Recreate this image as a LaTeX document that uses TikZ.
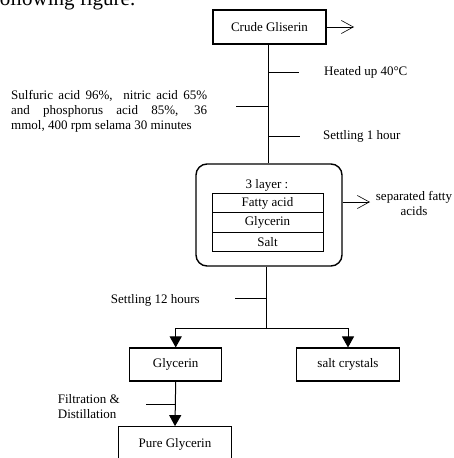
\documentclass[tikz,border=0pt]{standalone}
\usepackage{fontspec}
\setmainfont{Liberation Serif}
\usetikzlibrary{arrows.meta}
\begin{document}
\begin{tikzpicture}[x=1pt,y=-1pt,
  font=\fontsize{13}{15}\selectfont,
  box/.style={draw, line width=1.1pt, inner sep=0pt},
  layerrow/.style={draw, line width=0.9pt, inner sep=0pt, minimum width=111pt, minimum height=19.5pt},
  line/.style={line width=1pt},
  openarr/.style={line width=0.6pt, -{Straight Barb[length=12pt,width=13pt,line width=0.6pt]}},
  fillarr/.style={line width=1pt, -{Triangle[length=11pt,width=12pt]}},
  lbl/.style={inner sep=0pt}]
\clip (0,0) rectangle (454,458);
\node[lbl, anchor=base east, font=\fontsize{21}{24}\selectfont] (hdr) at (135.5,5) {following figure.};
% main nodes
\node[box, minimum width=113pt, minimum height=34pt] (crude) at (269.5,27) {Crude Gliserin};
\node[draw, line width=1.4pt, rounded corners=11pt, minimum width=146pt, minimum height=102pt] (layers) at (269,215) {};
\node[lbl] (three) at (267,185.5) {3 layer :};
\node[layerrow] (fatty) at (267.5,203) {Fatty acid};
\node[layerrow] (glyrow) at (267.5,222.5) {Glycerin};
\node[layerrow] (salt) at (267.5,242) {Salt};
\node[box, minimum width=92pt, minimum height=33pt] (gly) at (175.7,364.5) {Glycerin};
\node[box, minimum width=103pt, minimum height=33pt] (crys) at (348,364.5) {salt crystals};
\node[box, minimum width=113pt, minimum height=36pt] (pure) at (175,444.7) {Pure Glycerin};
% labels
\node[lbl, anchor=west] (heat) at (324,72) {Heated up 40°C};
\node[lbl, anchor=west] (set1) at (323,136) {Settling 1 hour};
\node[lbl, anchor=west, text width=196pt, align=justify] (acid) at (11,111)
  {Sulfuric acid 96\%,\ \ nitric acid 65\%\linebreak and phosphorus acid 85\%, 36\linebreak mmol, 400 rpm selama 30 minutes};
\node[lbl, anchor=east] (set12) at (200,300.5) {Settling 12 hours};
\node[lbl, align=center] (sep) at (414,203) {separated fatty\\acids};
\node[lbl, align=left, anchor=west] (filt) at (57.7,407) {Filtration \&\\Distillation};
% coordinates
\coordinate (t1) at (268.7,72);
\coordinate (t1e) at (299,72);
\coordinate (t2) at (268.7,106);
\coordinate (t2e) at (236,106);
\coordinate (t3) at (268.7,136);
\coordinate (t3e) at (300,136);
\coordinate (j) at (266.7,328);
\coordinate (t4) at (266.7,298);
\coordinate (t4e) at (235,298);
\coordinate (t5) at (175.7,404);
\coordinate (t5e) at (145.7,404);
\coordinate (a1) at (354,27);
\coordinate (a2) at (370,202);
% connectors
\draw[line] (crude.south -| t1) -- (layers.north -| t1);
\draw[line] (t1) -- (t1e);
\draw[line] (t2) -- (t2e);
\draw[line] (t3) -- (t3e);
\draw[openarr] (crude.east) -- (a1);
\draw[openarr] (layers.east |- a2) -- (a2);
\draw[line] (layers.south -| j) -- (j);
\draw[line] (t4) -- (t4e);
\draw[fillarr] (j) -| (gly.north);
\draw[fillarr] (j) -| (crys.north);
\draw[fillarr] (gly.south) -- (pure.north);
\draw[line] (t5) -- (t5e);
\end{tikzpicture}
\end{document}
